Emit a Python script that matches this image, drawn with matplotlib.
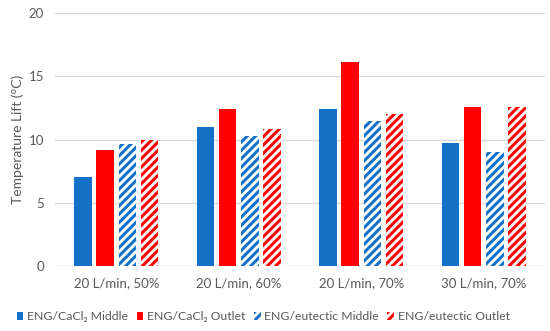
import numpy as np
import matplotlib
matplotlib.use('Agg')
import matplotlib.pyplot as plt

plt.rcParams['font.family'] = ['Lato', 'DejaVu Sans']
plt.rcParams['hatch.linewidth'] = 2.2

categories = ['20 L/min, 50%', '20 L/min, 60%', '20 L/min, 70%', '30 L/min, 70%']
cacl2_middle = [7.0, 11.0, 12.4, 9.7]
cacl2_outlet = [9.2, 12.4, 16.1, 12.55]
eutectic_middle = [9.65, 10.3, 11.45, 9.05]
eutectic_outlet = [10.0, 10.8, 12.0, 12.55]
labels = ['ENG/CaCl\u2082 Middle', 'ENG/CaCl\u2082 Outlet', 'ENG/eutectic Middle', 'ENG/eutectic Outlet']

blue = '#1570c8'
red = '#ff0000'
grey = '#595959'

fig = plt.figure(figsize=(5.5, 3.31), dpi=100)
ax = fig.add_axes([0.1, 0.196, 0.891, 0.765])

ind = np.arange(len(categories))
step = 0.182
width = 0.143
series = [cacl2_middle, cacl2_outlet, eutectic_middle, eutectic_outlet]
colors = [blue, red, blue, red]
hatched = [False, False, True, True]
for k, (vals, c, h, lab) in enumerate(zip(series, colors, hatched, labels)):
    x = ind + (k - 1.5) * step
    if h:
        ax.bar(x, vals, width, facecolor='white', edgecolor=c, hatch='////', linewidth=0, label=lab, zorder=3)
    else:
        ax.bar(x, vals, width, color=c, label=lab, zorder=3)

ax.set_xlim(-0.5, 3.5)
ax.set_ylim(0, 20)
ax.set_yticks([0, 5, 10, 15, 20])
ax.set_xticks(ind)
ax.set_xticklabels(categories)
ax.tick_params(axis='both', length=0, labelsize=9.5, colors=grey, pad=8)
ax.grid(axis='y', color='#d9d9d9', linewidth=1, zorder=0)
for s in ax.spines.values():
    s.set_visible(False)
ax.set_ylabel('Temperature Lift (\u00b0C)', fontsize=10, color=grey, labelpad=3)

ax.legend(loc='upper center', bbox_to_anchor=(0.425, -0.145), ncol=4, frameon=False,
          fontsize=8.8, labelcolor=grey, handlelength=0.55, handleheight=0.55,
          handletextpad=0.3, columnspacing=0.7, borderpad=0.2)

plt.savefig('out.png', dpi=100)
